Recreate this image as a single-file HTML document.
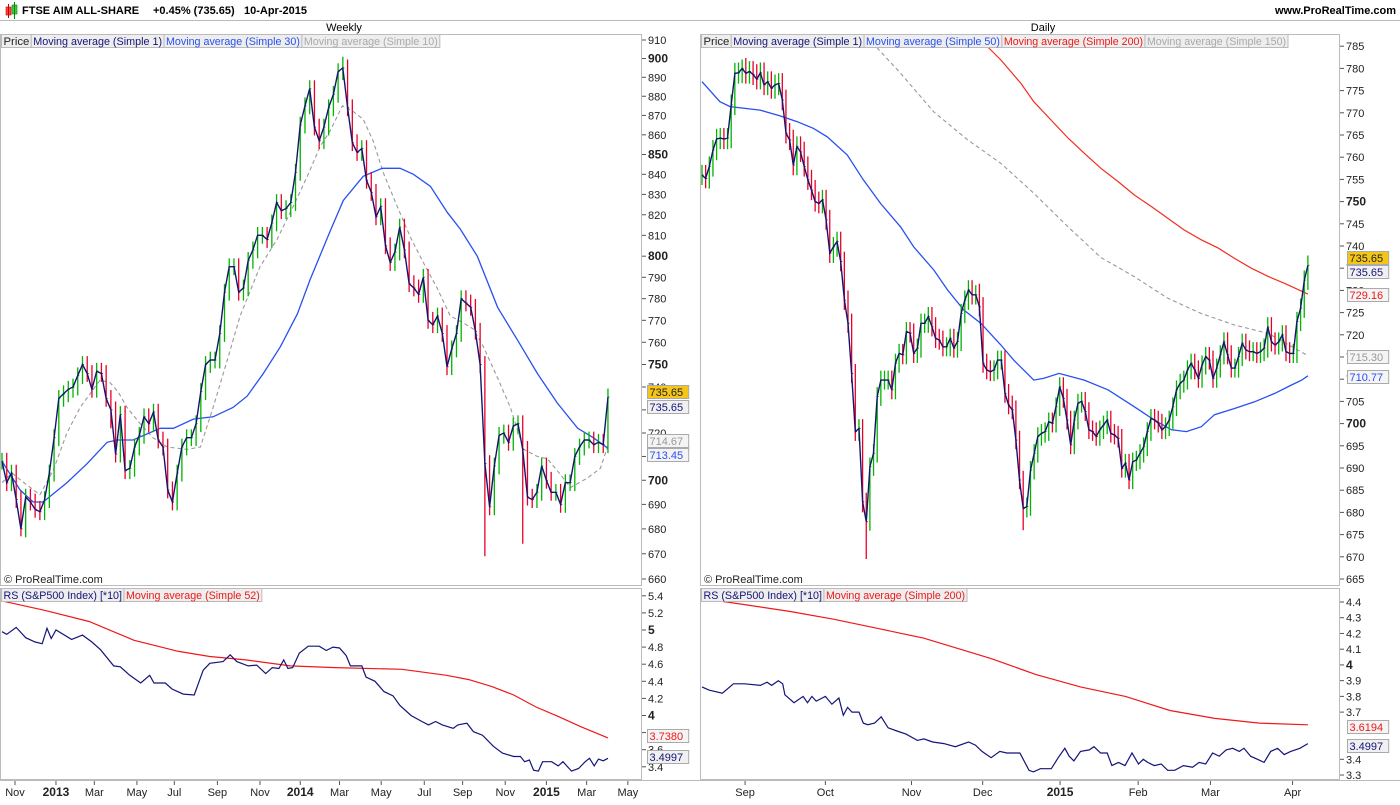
<!DOCTYPE html>
<html><head><meta charset="utf-8">
<style>
html,body{margin:0;padding:0;background:#fff;}
body{width:1400px;height:800px;overflow:hidden;font-family:"Liberation Sans",Arial,sans-serif;}
svg text{font-family:"Liberation Sans",Arial,sans-serif;}
</style></head>
<body>
<svg id="c" width="1400" height="800" xmlns="http://www.w3.org/2000/svg">
<defs>
<clipPath id="cpL"><rect x="0" y="34" width="642" height="551"/></clipPath>
<clipPath id="cpR"><rect x="701" y="34" width="639" height="551"/></clipPath>
<clipPath id="cpLs"><rect x="0" y="588" width="642" height="192"/></clipPath>
<clipPath id="cpRs"><rect x="701" y="588" width="639" height="192"/></clipPath>
</defs>
<g>
<rect x="6" y="7" width="5" height="8" fill="#f44" stroke="#c00" stroke-width="0.6"/>
<line x1="8.5" y1="4" x2="8.5" y2="18" stroke="#c00"/>
<rect x="12" y="5" width="5" height="9" fill="#4c4" stroke="#080" stroke-width="0.6"/>
<line x1="14.5" y1="2" x2="14.5" y2="19" stroke="#080"/>
<text x="22" y="14" font-size="11" font-weight="bold">FTSE AIM ALL-SHARE</text>
<text x="153" y="14" font-size="11" font-weight="bold">+0.45% (735.65)</text>
<text x="244" y="14" font-size="11" font-weight="bold">10-Apr-2015</text>
<text x="1396" y="14" font-size="11" font-weight="bold" text-anchor="end">www.ProRealTime.com</text>
<line x1="0" y1="20.5" x2="1400" y2="20.5" stroke="#bbb"/>
</g>
<text x="344" y="31" font-size="11" text-anchor="middle">Weekly</text>
<text x="1043" y="31" font-size="11" text-anchor="middle">Daily</text>
<g id="frames"></g>
<g id="plot"></g>
</svg>
<script>
// ---------- Weekly data ----------
const weeklyClose=[708,699,703,692,680,693,691,688,687,692,
703,718,735,737,739,740,745,750,746,739,
747,746,735,730,711,728,704,705,714,719,
727,724,729,717,714,696,691,703,714,718,
718,724,738,750,752,752,764,783,795,795,
783,785,798,803,810,810,808,816,826,822,
823,826,841,865,875,884,864,857,864,874,
881,893,895,874,856,851,853,837,831,819,
824,805,797,802,814,803,787,785,782,790,
770,768,772,764,749,757,764,780,778,776,
765,750,707,689,706,719,720,716,723,724,
713,693,692,695,706,700,695,695,690,699,
699,710,714,717,717,715,716,715,735.65];
const weeklyLowIdx=[102,110,4,23];
const weeklyLowVal=[669,674,677,722];
const weeklyHighIdx=[72];
const weeklyHighVal=[901];
const wMa30Idx=[0,3.8,6.6,8.7,13.7,18,22.2,24.3,27.7,33.4,36.2,40.4,44.6,48.8,51.8,55.2,58.8,62.4,65.1,69.3,72.1,76.3,80.3,84.1,86.9,90.5,94.1,96.8,100.4,104.7,108.9,113.1,117.3,121.6,124.9,128];
const wMa30Val=[708,696,691,691,699,707,716,717,717,722,722,726,727,731,736,746,758,773,789,812,827,839,843,843,840,834,821,813,800,776,761,746,733,722,718,713.45];
const wMa10Idx=[0,2.1,5.3,8,10.8,13.7,16.5,18.6,20.7,22.8,24.5,26.4,29.2,31.9,34.9,39.1,41.9,44.6,47.6,50.3,54.5,58.1,61.5,64.5,67.2,69.3,71.9,74.2,76.3,78.4,80.5,83.5,86.3,89,91.9,94.7,97.3,99.6,101.7,104.7,107.4,110.2,113.1,115.2,117.3,120.1,123.7,126.4,128];
const wMa10Val=[699,703,698,694,704,720,731,737,743,742,738,731,724,718,714,713,714,731,752,772,795,808,824,839,854,862,875,872,868,857,841,824,809,797,785,772,769,766,758,744,731,713,710,709,704,697,701,705,714.67];
const wRsIdx=[0,1,3,5,7,8.5,9.5,10.4,11.4,14.7,17,19,20.8,23.6,25,27,29.3,31.2,32.1,34.5,35.9,38.3,40.6,42.5,43.9,46.7,48.2,49.6,52,53.8,55.7,57.1,58.5,59.5,60.4,61.4,62.8,64.7,67,68.5,69.9,71.3,72.7,73.6,76,76.9,78.8,80.7,82.6,84,86.4,88.7,90.1,91.6,93,95.3,96.3,98.2,99.6,101.5,103.8,105.7,108.1,109.5,110.4,111.4,112.3,113.3,114.2,116.1,117.5,118.5,120.3,121.8,123.2,124.1,125.1,126,127,128];
const wRsVal=[4.98,4.95,5.03,4.91,4.86,4.84,5.02,4.90,5.00,4.89,4.94,4.86,4.77,4.58,4.57,4.47,4.38,4.47,4.38,4.38,4.31,4.25,4.24,4.53,4.61,4.63,4.71,4.63,4.58,4.59,4.49,4.56,4.55,4.65,4.55,4.56,4.73,4.81,4.81,4.76,4.80,4.79,4.70,4.58,4.58,4.45,4.40,4.28,4.23,4.12,4.00,3.93,3.89,3.93,3.89,3.85,3.89,3.91,3.81,3.77,3.64,3.56,3.52,3.52,3.46,3.48,3.36,3.35,3.46,3.46,3.41,3.46,3.35,3.38,3.46,3.50,3.41,3.49,3.47,3.4997];
const wRsMaIdx=[0,9,18.4,27.9,37.3,43.9,51.5,60.9,70.3,84.5,93.9,98.6,103.4,108.1,112.8,117.5,122.2,128];
const wRsMaVal=[5.34,5.23,5.10,4.88,4.75,4.69,4.65,4.58,4.56,4.54,4.47,4.42,4.34,4.24,4.10,3.99,3.87,3.738];
const wTickLabels=["Nov","2013","Mar","May","Jul","Sep","Nov","2014","Mar","May","Jul","Sep","Nov","2015","Mar","May"];
const wTickIdx=[2.75,11.4,19.5,28.5,36.4,45.5,54.5,63,71.3,80.1,89.2,97.3,106.3,115,123.5,132.2];
const wPriceTicks=[910,900,890,880,870,860,850,840,830,820,810,800,790,780,770,760,750,740,730,720,710,700,690,680,670,660];
const wRsTicks=[5.4,5.2,5,4.8,4.6,4.4,4.2,4,3.8,3.6,3.4];

// ---------- Daily data ----------
const dailyClose=[756,755.2,757.9,761.6,764.1,764.3,764.1,764.3,771.8,778.9,
779,780,778.9,779.3,778.6,777.6,779,776.3,777,775.5,
776.3,776.6,772.9,765.4,763.9,758.2,762.4,761.2,757.9,754.9,
752.6,750,749.6,750.4,745.9,738.4,739.8,741,736.5,727.8,
722.6,711.3,698.2,698.9,682.4,677.9,690.3,693.3,706.1,709.8,
709.8,709.8,707.6,713.6,715.8,715.5,720.7,720.4,715.8,717,
722.6,722.6,724.1,721.8,719.2,718.8,717.3,717.3,719.2,717,
718.5,724.8,727.8,730.1,729,729,726.3,713.6,712.1,711.7,
712.1,714.3,714.3,706.8,704.2,
703.1,696.3,687.3,680.9,681.3,689.5,693.3,697.1,697.8,698.2,
700.4,700.1,703.8,708.3,705.7,700.8,695.2,700.8,704.6,705,
702.7,698.6,698.2,697.1,698.6,699.7,700.8,697.8,697.4,696.7,
689.9,691.1,687.3,691.4,691.8,693.3,694.8,698.2,701.2,700.8,
700.1,698.6,699.3,700.8,703.8,707.6,709.1,709.8,712.1,713.6,
712.1,710.2,713.2,715.1,714.3,710.2,712.5,715.5,718.4,715.5,
712.5,712.5,715.1,718.1,716.6,716.2,716.2,715.8,716.2,717,
721.8,718.4,717.7,718.4,720,716.2,715.8,715.8,723,726,
732.3,735.65];
const dailyLowIdx=[45,88,44,1];
const dailyLowVal=[669.5,676,680,753];
const dailyHighIdx=[11,76];
const dailyHighVal=[782,731.5];
const dMa50Idx=[0,4.9,7.7,15.9,21.4,26.1,30.5,34.3,39.8,44.2,48.9,54.4,58,63.5,67.3,71.7,76.4,81.9,85.4,90.9,93.7,97.8,104.7,111.3,118.4,123.9,128.6,132.7,136.8,140.4,145.9,151.4,156.9,161.5,164.3,166];
const dMa50Val=[777,772.5,771.4,770.6,769.3,768,766.5,764.6,760.5,754.9,749.6,744.3,739.8,734.6,730.1,725.6,722.6,717.7,714.3,709.8,710.2,711.3,709.8,707.6,703.8,700.8,698.6,698.2,699.3,702,703.4,704.9,706.8,708.7,709.8,710.77];
const dMa200Idx=[73.6,78.6,81.9,87.4,90.9,95.6,100.3,104.7,109.3,114,118.4,123.1,127.7,132.1,136.8,141.5,145.9,150.5,155.2,159.6,166];
const dMa200Val=[790,784.6,781.9,776.6,772.5,768.4,764.3,760.9,757.5,754.5,751.5,748.9,746.2,743.6,741.4,739.5,737.2,735,733.1,731.6,729.16];
const dMa150Idx=[46.7,48.1,54.4,63.5,72.8,81.9,90.9,100.3,109.3,118.4,127.7,136.8,145.9,155.2,166];
const dMa150Val=[787.7,784.5,778.9,770.2,763.9,758.6,751.9,744.3,737.4,733.1,728.2,724.8,722.2,720.3,715.3];
const dRsIdx=[0,1.9,5.6,8.6,11.7,16,17.8,19.1,20.9,22.1,22.7,25.2,27.7,28.9,30.1,31.3,33.8,35.6,37.5,38.7,39.9,41.1,43,44.2,45.4,47.3,49.1,51,53.4,55.9,59,60.8,63.2,66.3,69.4,73,74.9,76.7,79.2,81.6,83.5,85.3,87.1,89.6,90.8,92.7,95.7,97.6,99.4,100.6,101.9,103.7,106.1,107.4,109.2,111,112.3,114.1,115.9,117.8,119.6,120.9,122.1,123.9,125.8,127.6,129.5,131.9,134.4,136.2,138,139.9,141.7,143.6,145.4,147.2,148.5,150.3,152.2,154,155.8,157.7,159.5,161.3,163.8,166];
const dRsVal=[3.86,3.84,3.82,3.88,3.88,3.87,3.89,3.87,3.90,3.88,3.81,3.76,3.80,3.76,3.80,3.77,3.80,3.75,3.79,3.68,3.73,3.70,3.70,3.63,3.62,3.63,3.67,3.60,3.58,3.56,3.52,3.53,3.51,3.50,3.48,3.51,3.49,3.45,3.41,3.45,3.44,3.44,3.44,3.33,3.32,3.34,3.34,3.41,3.47,3.42,3.39,3.45,3.46,3.48,3.44,3.44,3.36,3.38,3.36,3.44,3.37,3.40,3.38,3.36,3.37,3.33,3.33,3.36,3.35,3.38,3.37,3.44,3.42,3.46,3.47,3.45,3.47,3.42,3.40,3.38,3.45,3.47,3.43,3.45,3.47,3.4997];
const dRsMaIdx=[0,6.8,24,36.2,48.5,60.8,79.2,91.4,103.7,116,128.2,140.5,152.7,166];
const dRsMaVal=[4.42,4.40,4.34,4.29,4.23,4.17,4.04,3.94,3.86,3.80,3.71,3.66,3.63,3.6194];
const dTickLabels=["Sep","Oct","Nov","Dec","2015","Feb","Mar","Apr"];
const dTickIdx=[11.8,33.8,57.4,76.9,98.1,119.5,139.3,161.8];
const dPriceTicks=[785,780,775,770,765,760,755,750,745,740,735,730,725,720,715,710,705,700,695,690,685,680,675,670,665];
const dRsTicks=[4.4,4.3,4.2,4.1,4,3.9,3.8,3.7,3.6,3.5,3.4,3.3];

// ---------- Scales ----------
const xW=i=>2+4.734*i;
const xD=i=>702+3.65*i;
const yW=v=>40+(Math.log(910)-Math.log(v))/Math.log(910/660)*539;
const yD=v=>579-(v-665)*4.44;
const yWr=v=>630-(v-5)*85.5;
const yDr=v=>602-(v-4.4)*157.3;

const NS="http://www.w3.org/2000/svg";
const plot=document.getElementById('plot');
const frames=document.getElementById('frames');
function mk(tag,attrs,parent){const e=document.createElementNS(NS,tag);for(const k in attrs)e.setAttribute(k,attrs[k]);(parent||plot).appendChild(e);return e;}

[[0.5,34.5,641,551,'weekly-price-pane'],[700.5,34.5,639,551,'daily-price-pane'],[0.5,588.5,641,191,'weekly-rs-pane'],[700.5,588.5,639,191,'daily-rs-pane']].forEach(f=>{
  const r=mk('rect',{x:f[0],y:f[1],width:f[2],height:f[3],fill:'none',stroke:'#bbb'},frames);
  
  
});
mk('line',{x1:0,y1:780.5,x2:1400,y2:780.5,stroke:'#bbb'},frames);

function legend(x,y,items,name){
  const g=mk('g',{});
  
  
  let cx=x;
  items.forEach(it=>{
    const r=mk('rect',{x:cx+0.5,y:y+0.5,width:10,height:13,fill:'#eee',stroke:'#bbb'},g);
    const t=mk('text',{x:cx+2.5,y:y+11,'font-size':11,fill:it[1],textLength:(it[0].length*5.15).toFixed(1),lengthAdjust:'spacingAndGlyphs'},g);
    t.textContent=it[0];
    
    
    const w=it[0].length*5.15+4;
    r.setAttribute('width',w);
    cx+=w;
  });
}

function polyline(idx,vals,xf,yf,attrs,clip,name){
  const pts=idx.map((i,k)=>xf(i).toFixed(1)+','+yf(vals[k]).toFixed(1)).join(' ');
  const p=mk('polyline',Object.assign({points:pts,fill:'none','clip-path':'url(#'+clip+')'},attrs));
  
  
  return p;
}

function bars(close,lowIdx,lowVal,highIdx,highVal,xf,yf,clip,name,ext){
  const g=mk('g',{'clip-path':'url(#'+clip+')'});
  
  
  close.forEach((c,i)=>{
    const o=i>0?close[i-1]:c;
    let hi=Math.max(o,c)*(1+ext), lo=Math.min(o,c)*(1-ext);
    const li=lowIdx.indexOf(i); if(li>=0) lo=lowVal[li];
    const hh=highIdx.indexOf(i); if(hh>=0) hi=highVal[hh];
    const col=c>=o?'#00b400':'#e8002c';
    const x=xf(i);
    const b=mk('line',{x1:x,y1:yf(hi),x2:x,y2:yf(lo),stroke:col,'stroke-width':1.3},g);
    
    
    mk('line',{x1:x,y1:yf(c),x2:x+1.6,y2:yf(c),stroke:col,'stroke-width':1},g);
  });
  const p=mk('polyline',{points:close.map((c,i)=>xf(i).toFixed(1)+','+yf(c).toFixed(1)).join(' '),fill:'none',stroke:'#14146e','stroke-width':1.4,'clip-path':'url(#'+clip+')'});
  
  
}

function axis(ticks,yf,x,bold,name){
  const g=mk('g',{});
  
  
  ticks.forEach(v=>{
    const y=yf(v);
    mk('line',{x1:x,y1:y,x2:x+4,y2:y,stroke:'#555'},g);
    const t=mk('text',{x:x+6,y:y+4,'font-size':bold.includes(v)?12:11,'font-weight':bold.includes(v)?'bold':'normal',fill:'#222'},g);
    t.textContent=String(v);
    
    
  });
}
function xaxis(labels,idx,xf,bolds,name){
  const g=mk('g',{});
  
  
  labels.forEach((l,k)=>{
    const x=xf(idx[k]);
    mk('line',{x1:x,y1:781,x2:x,y2:785,stroke:'#555'},g);
    const b=bolds.includes(l);
    const t=mk('text',{x:x,y:796,'font-size':b?12:11,'font-weight':b?'bold':'normal','text-anchor':'middle',fill:'#222'},g);
    t.textContent=l;
    
    
  });
}
function tag(x,y,txt,bg,fg,name){
  const g=mk('g',{});
  
  
  const w=txt.length*6.2+4;
  mk('rect',{x:x+0.5,y:y-6.5,width:w,height:13,fill:bg,stroke:'#aaa'},g);
  const t=mk('text',{x:x+2.5,y:y+4,'font-size':11,fill:fg},g);
  t.textContent=txt;
}

// ---------- Weekly ----------
polyline(wMa10Idx,wMa10Val,xW,yW,{stroke:'#999','stroke-width':1.1,'stroke-dasharray':'4,3'},'cpL','ma10-weekly-line');
polyline(wMa30Idx,wMa30Val,xW,yW,{stroke:'#2850f0','stroke-width':1.3},'cpL','ma30-weekly-line');
bars(weeklyClose,weeklyLowIdx,weeklyLowVal,weeklyHighIdx,weeklyHighVal,xW,yW,'cpL','weekly-bars',0.005);
axis(wPriceTicks,yW,642,[900,850,800,750,700],'weekly-price-axis');
polyline(wRsMaIdx,wRsMaVal,xW,yWr,{stroke:'#f01818','stroke-width':1.2},'cpLs','rs-ma52-line');
polyline(wRsIdx,wRsVal,xW,yWr,{stroke:'#14147a','stroke-width':1.2},'cpLs','rs-weekly-line');
axis(wRsTicks,yWr,642,[5,4],'weekly-rs-axis');
xaxis(wTickLabels,wTickIdx,xW,['2013','2014','2015'],'weekly-x-axis');
legend(1,34,[['Price','#222'],['Moving average (Simple 1)','#14147a'],['Moving average (Simple 30)','#2850f0'],['Moving average (Simple 10)','#aaa']],'weekly-legend');
legend(1,588,[['RS (S&P500 Index) [*10]','#14147a'],['Moving average (Simple 52)','#f01818']],'weekly-rs-legend');
tag(647,392,'735.65','#f5c518','#222','weekly-last-price-tag');
tag(647,407,'735.65','#f0f0f0','#14147a','weekly-ma1-tag');
tag(647,441,'714.67','#f4f4f4','#999','weekly-ma10-tag');
tag(647,455,'713.45','#f4f4f4','#2850f0','weekly-ma30-tag');
tag(647,736,'3.7380','#f4f4f4','#f01818','weekly-rs-ma-tag');
tag(647,757,'3.4997','#f0f0f0','#14147a','weekly-rs-tag');

// ---------- Daily ----------
polyline(dMa150Idx,dMa150Val,xD,yD,{stroke:'#999','stroke-width':1.1,'stroke-dasharray':'4,3'},'cpR','ma150-daily-line');
polyline(dMa200Idx,dMa200Val,xD,yD,{stroke:'#f03020','stroke-width':1.2},'cpR','ma200-daily-line');
polyline(dMa50Idx,dMa50Val,xD,yD,{stroke:'#2850f0','stroke-width':1.3},'cpR','ma50-daily-line');
bars(dailyClose,dailyLowIdx,dailyLowVal,dailyHighIdx,dailyHighVal,xD,yD,'cpR','daily-bars',0.003);
axis(dPriceTicks,yD,1340,[750,700],'daily-price-axis');
polyline(dRsMaIdx,dRsMaVal,xD,yDr,{stroke:'#f01818','stroke-width':1.2},'cpRs','rs-ma200-line');
polyline(dRsIdx,dRsVal,xD,yDr,{stroke:'#14147a','stroke-width':1.2},'cpRs','rs-daily-line');
axis(dRsTicks.filter(v=>v!==3.5&&v!==3.6),yDr,1340,[4],'daily-rs-axis');
xaxis(dTickLabels,dTickIdx,xD,['2015'],'daily-x-axis');
legend(701,34,[['Price','#222'],['Moving average (Simple 1)','#14147a'],['Moving average (Simple 50)','#2850f0'],['Moving average (Simple 200)','#f01818'],['Moving average (Simple 150)','#aaa']],'daily-legend');
legend(701,588,[['RS (S&P500 Index) [*10]','#14147a'],['Moving average (Simple 200)','#f01818']],'daily-rs-legend');
tag(1347,258,'735.65','#f5c518','#222','daily-last-price-tag');
tag(1347,272,'735.65','#f0f0f0','#14147a','daily-ma1-tag');
tag(1347,295,'729.16','#f4f4f4','#f01818','daily-ma200-tag');
tag(1347,357,'715.30','#f4f4f4','#999','daily-ma150-tag');
tag(1347,377,'710.77','#f4f4f4','#2850f0','daily-ma50-tag');
tag(1347,727,'3.6194','#f4f4f4','#f01818','daily-rs-ma-tag');
tag(1347,746,'3.4997','#f0f0f0','#14147a','daily-rs-tag');

[[4,583,'weekly-copyright'],[704,583,'daily-copyright']].forEach(c=>{
  const t=mk('text',{x:c[0],y:c[1],'font-size':11,fill:'#222'});
  t.textContent='© ProRealTime.com';
  
  
});
</script>
</body></html>
